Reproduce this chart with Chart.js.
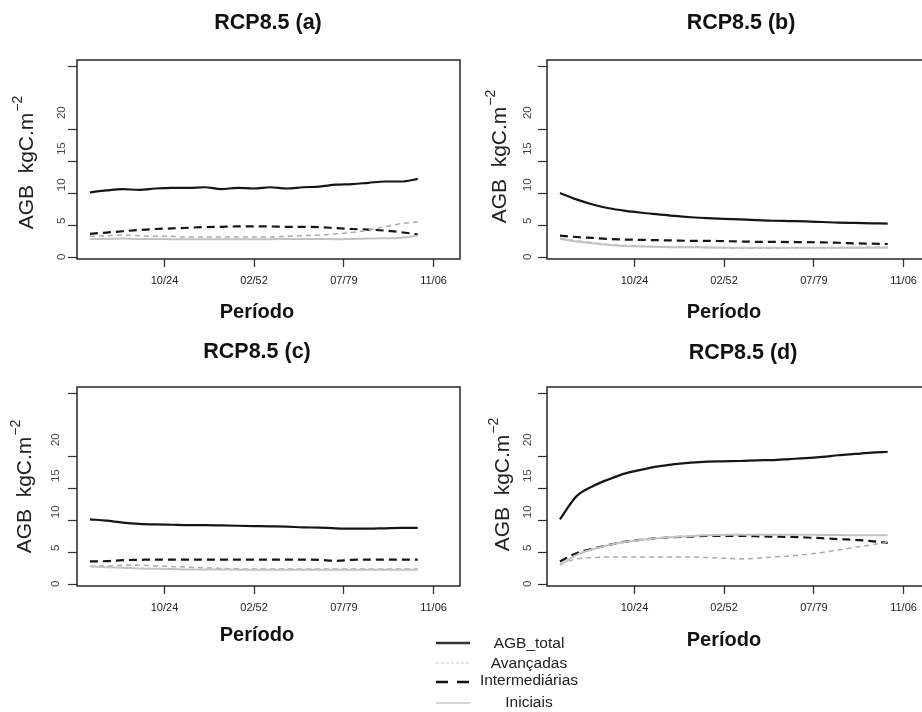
<!DOCTYPE html>
<html>
<head>
<meta charset="utf-8">
<script src="https://cdn.jsdelivr.net/npm/chart.js@4.4.0/dist/chart.umd.min.js"></script>
<style>
  html, body { margin: 0; padding: 0; width: 922px; height: 712px; overflow: hidden; background: #fff; }
  canvas { position: absolute; }
  #legend { position: absolute; left: 430px; top: 630px; width: 170px; height: 82px;
            font-family: "Liberation Sans", Arial, sans-serif; font-size: 15.5px; color: #222; }
  #legend svg { position: absolute; left: 0; top: 0; }
  #legend span { position: absolute; width: 120px; left: 39px; text-align: center; line-height: 18px; }
</style>
</head>
<body>
<canvas id="pa" width="461" height="330" style="left:0;top:0"></canvas>
<canvas id="pb" width="470" height="330" style="left:461px;top:0"></canvas>
<canvas id="pc" width="461" height="382" style="left:0;top:330px"></canvas>
<canvas id="pd" width="470" height="382" style="left:461px;top:330px"></canvas>

<div id="legend">
  <svg width="60" height="82">
    <line x1="6" y1="13" x2="40" y2="13" stroke="#333" stroke-width="2.5"/>
    <line x1="6" y1="33" x2="40" y2="33" stroke="#c8c8c8" stroke-width="1" stroke-dasharray="3,2"/>
    <line x1="6" y1="52" x2="40" y2="52" stroke="#111" stroke-width="2.5" stroke-dasharray="12,9"/>
    <line x1="6" y1="73" x2="40" y2="73" stroke="#c8c8c8" stroke-width="1.5"/>
  </svg>
  <span style="top:4px">AGB_total</span>
  <span style="top:24px">Avançadas</span>
  <span style="top:41px">Intermediárias</span>
  <span style="top:63px">Iniciais</span>
</div>

<script>
// anos das séries (passo de 5 anos)
const years = [2002, 2007, 2012, 2017, 2022, 2027, 2032, 2037, 2042, 2047, 2052,
               2057, 2062, 2067, 2072, 2077, 2082, 2087, 2092, 2097, 2102];

const xTickYears = [2024.75, 2052.08, 2079.5, 2106.83];
const xTickLabels = ['10/24', '02/52', '07/79', '11/06'];
const yTickValues = [0, 5, 10, 15, 20, 30];
const yLabelValues = [0, 5, 10, 15, 20];

// RCP8.5 (a)
const agbA = [10.2, 10.5, 10.7, 10.6, 10.8, 10.9, 10.9, 11.0, 10.7, 10.9, 10.8, 11.0, 10.8, 11.0, 11.1, 11.4, 11.5, 11.7, 11.9, 11.9, 12.3];
const avaA = [3.3, 3.4, 3.5, 3.4, 3.3, 3.3, 3.2, 3.2, 3.2, 3.2, 3.2, 3.2, 3.3, 3.4, 3.5, 3.7, 3.9, 4.3, 4.8, 5.3, 5.6];
const intA = [3.7, 3.9, 4.1, 4.3, 4.45, 4.55, 4.65, 4.75, 4.8, 4.85, 4.85, 4.85, 4.8, 4.8, 4.75, 4.6, 4.45, 4.35, 4.2, 3.95, 3.6];
const iniA = [2.9, 2.9, 2.95, 2.9, 2.9, 2.85, 2.85, 2.85, 2.85, 2.85, 2.85, 2.85, 2.9, 2.9, 2.9, 2.85, 2.9, 2.95, 3.0, 3.1, 3.4];

// RCP8.5 (b)
const agbB = [10.1, 9.1, 8.3, 7.7, 7.3, 7.0, 6.75, 6.5, 6.3, 6.15, 6.05, 5.95, 5.85, 5.75, 5.7, 5.65, 5.55, 5.45, 5.4, 5.35, 5.3];
const avaB = [3.0, 2.6, 2.3, 2.0, 1.85, 1.75, 1.7, 1.65, 1.6, 1.55, 1.5, 1.45, 1.45, 1.45, 1.5, 1.5, 1.5, 1.55, 1.55, 1.6, 1.6];
const intB = [3.4, 3.2, 3.05, 2.9, 2.8, 2.75, 2.7, 2.65, 2.6, 2.6, 2.55, 2.5, 2.45, 2.45, 2.4, 2.4, 2.35, 2.3, 2.2, 2.15, 2.1];
const iniB = [2.9, 2.5, 2.2, 1.95, 1.8, 1.7, 1.65, 1.6, 1.6, 1.55, 1.55, 1.5, 1.5, 1.5, 1.5, 1.5, 1.5, 1.5, 1.5, 1.5, 1.5];

// RCP8.5 (c)
const agbC = [10.2, 10.0, 9.7, 9.5, 9.4, 9.35, 9.3, 9.3, 9.25, 9.2, 9.15, 9.1, 9.05, 8.95, 8.9, 8.8, 8.75, 8.75, 8.8, 8.85, 8.85];
const avaC = [2.9, 2.9, 3.0, 3.0, 2.9, 2.8, 2.7, 2.6, 2.5, 2.45, 2.4, 2.4, 2.4, 2.4, 2.4, 2.4, 2.4, 2.4, 2.4, 2.4, 2.4];
const intC = [3.6, 3.65, 3.8, 3.85, 3.9, 3.9, 3.9, 3.9, 3.9, 3.9, 3.9, 3.9, 3.9, 3.9, 3.85, 3.7, 3.85, 3.9, 3.9, 3.9, 3.9];
const iniC = [2.8, 2.7, 2.6, 2.5, 2.45, 2.4, 2.35, 2.35, 2.35, 2.3, 2.3, 2.3, 2.3, 2.3, 2.3, 2.3, 2.3, 2.3, 2.3, 2.3, 2.3];

// RCP8.5 (d)
const agbD = [10.2, 13.8, 15.4, 16.5, 17.4, 18.0, 18.5, 18.85, 19.1, 19.25, 19.3, 19.35, 19.45, 19.5, 19.65, 19.8, 20.0, 20.25, 20.45, 20.65, 20.8];
const avaD = [3.2, 4.0, 4.2, 4.3, 4.3, 4.3, 4.3, 4.3, 4.3, 4.2, 4.1, 4.0, 4.1, 4.3, 4.45, 4.7, 5.0, 5.4, 5.8, 6.2, 6.6];
const intD = [3.6, 4.9, 5.6, 6.2, 6.7, 7.0, 7.25, 7.4, 7.5, 7.6, 7.6, 7.6, 7.55, 7.5, 7.45, 7.35, 7.25, 7.1, 7.0, 6.8, 6.5];
const iniD = [3.0, 4.6, 5.5, 6.2, 6.7, 7.0, 7.25, 7.45, 7.6, 7.7, 7.75, 7.8, 7.8, 7.8, 7.8, 7.8, 7.75, 7.75, 7.7, 7.7, 7.7];

const FONT = '"Liberation Sans", Arial, sans-serif';

// caixa em volta da área do gráfico
const boxPlugin = {
    id: 'box',
    beforeDatasetsDraw(chart) {
        const a = chart.chartArea, ctx = chart.ctx;
        ctx.save();
        ctx.strokeStyle = '#262626';
        ctx.lineWidth = 1.5;
        ctx.strokeRect(a.left, a.top, a.right - a.left, a.bottom - a.top);
        ctx.restore();
    }
};

// título, "Período" e rótulo do eixo y com expoente
const textPlugin = {
    id: 'panelText',
    afterDraw(chart, args, o) {
        const ctx = chart.ctx;
        ctx.save();
        ctx.fillStyle = '#111';
        ctx.textAlign = 'center';
        ctx.textBaseline = 'middle';
        ctx.font = 'bold 21.5px ' + FONT;
        ctx.fillText(o.title, o.titleX, o.titleY);
        ctx.font = 'bold 20px ' + FONT;
        ctx.fillText('Período', o.xTitleX, o.xTitleY);

        ctx.translate(o.yTitleX, o.yTitleY);
        ctx.rotate(-Math.PI / 2);
        const main = 'AGB  kgC.m', sup = '−2';
        ctx.font = '21px ' + FONT;
        const wm = ctx.measureText(main).width;
        ctx.font = '14px ' + FONT;
        const ws = ctx.measureText(sup).width;
        const x0 = -(wm + ws) / 2;
        ctx.textAlign = 'left';
        ctx.fillStyle = '#222';
        ctx.font = '21px ' + FONT;
        ctx.fillText(main, x0, 0);
        ctx.font = '14px ' + FONT;
        ctx.fillText(sup, x0 + wm + 1, -9);
        ctx.restore();
    }
};

function series(vals) {
    return vals.map((v, i) => ({ x: years[i], y: v }));
}

function makePanel(id, p) {
    new Chart(document.getElementById(id), {
        type: 'line',
        data: {
            datasets: [
                { label: 'Iniciais', data: series(p.ini), borderColor: '#c2c2c2', borderWidth: 2 },
                { label: 'Avançadas', data: series(p.ava), borderColor: '#aaaaaa', borderWidth: 1.5, borderDash: [5, 4] },
                { label: 'Intermediárias', data: series(p.int), borderColor: '#151515', borderWidth: 2.2, borderDash: [8, 5] },
                { label: 'AGB_total', data: series(p.agb), borderColor: '#151515', borderWidth: 2.2 }
            ]
        },
        options: {
            responsive: false,
            animation: false,
            events: [],
            elements: { point: { radius: 0 }, line: { cubicInterpolationMode: 'monotone' } },
            layout: { padding: { top: p.top, right: 1, left: 0, bottom: 0 } },
            plugins: {
                legend: { display: false },
                tooltip: { enabled: false },
                panelText: p.text
            },
            scales: {
                x: {
                    type: 'linear', min: 1998.05, max: 2114.9,
                    afterBuildTicks: s => { s.ticks = xTickYears.map(v => ({ value: v })); },
                    afterFit: s => { s.height = p.xh; },
                    ticks: {
                        autoSkip: false, maxRotation: 0, padding: 7.5,
                        color: '#222', font: { family: FONT, size: 11 },
                        callback: v => xTickLabels[xTickYears.indexOf(v)]
                    },
                    grid: { drawOnChartArea: false, tickLength: 8, color: '#333', tickWidth: 1.3 },
                    border: { display: false }
                },
                y: {
                    min: -0.25, max: 30.95, weight: 0,
                    afterBuildTicks: s => { s.ticks = yTickValues.map(v => ({ value: v })); },
                    afterFit: s => { s.width = 9; },
                    ticks: { display: false },
                    grid: { drawOnChartArea: false, tickLength: 9, color: '#333', tickWidth: 1.2 },
                    border: { display: false }
                },
                yl: {
                    position: 'left', weight: 1, min: -0.3, max: 27.3,
                    afterBuildTicks: s => { s.ticks = yLabelValues.map(v => ({ value: v })); },
                    afterFit: s => { s.width = p.ylw; },
                    ticks: {
                        minRotation: 90, maxRotation: 90, crossAlign: 'center', padding: p.ylpad,
                        color: '#444', font: { family: FONT, size: 11.5 },
                        callback: v => String(v)
                    },
                    grid: { display: false, drawTicks: false },
                    border: { display: false }
                }
            }
        },
        plugins: [boxPlugin, textPlugin]
    });
}

makePanel('pa', {
    agb: agbA, ava: avaA, int: intA, ini: iniA,
    top: 60, xh: 71, ylw: 68, ylpad: 0,
    text: { title: 'RCP8.5 (a)', titleX: 268, titleY: 23, xTitleX: 257, xTitleY: 312, yTitleX: 27, yTitleY: 163 }
});
makePanel('pb', {
    agb: agbB, ava: avaB, int: intB, ini: iniB,
    top: 60, xh: 71, ylw: 77, ylpad: 4,
    text: { title: 'RCP8.5 (b)', titleX: 280, titleY: 23, xTitleX: 263, xTitleY: 312, yTitleX: 39, yTitleY: 157 }
});
makePanel('pc', {
    agb: agbC, ava: avaC, int: intC, ini: iniC,
    top: 57, xh: 126, ylw: 68, ylpad: 6,
    text: { title: 'RCP8.5 (c)', titleX: 257, titleY: 22, xTitleX: 257, xTitleY: 305, yTitleX: 25, yTitleY: 157 }
});
makePanel('pd', {
    agb: agbD, ava: avaD, int: intD, ini: iniD,
    top: 57, xh: 126, ylw: 77, ylpad: 4,
    text: { title: 'RCP8.5 (d)', titleX: 282, titleY: 23, xTitleX: 263, xTitleY: 310, yTitleX: 42, yTitleY: 155 }
});
</script>
</body>
</html>
